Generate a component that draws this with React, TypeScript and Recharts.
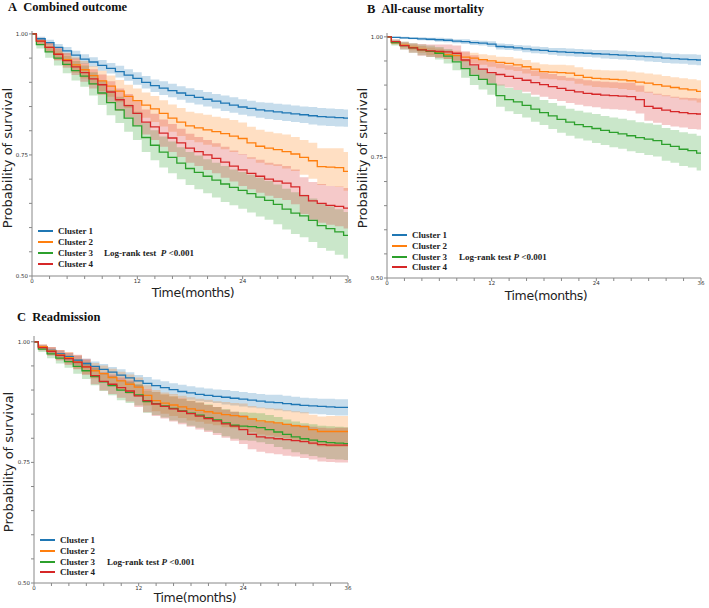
import { ComposedChart, Area, Line, XAxis, YAxis } from "recharts";

const MONTHS = [0, 1, 2, 3, 4, 5, 6, 7, 8, 9, 10, 11, 12, 13, 14, 15, 16, 17, 18, 19, 20, 21, 22, 23, 24, 25, 26, 27, 28, 29, 30, 31, 32, 33, 34, 35, 36];
const CLUSTERS = ["Cluster 1", "Cluster 2", "Cluster 3", "Cluster 4"];
const COLORS = ["#1f77b4", "#ff7f0e", "#2ca02c", "#d62728"];
const X_TICKS = [0, 2, 4, 6, 8, 10, 12, 14, 16, 18, 20, 22, 24, 26, 28, 30, 32, 34, 36];
const X_LABELS = [0, 12, 24, 36];
const Y_TICKS = [0.5, 0.55, 0.6, 0.65, 0.7, 0.75, 0.8, 0.85, 0.9, 0.95, 1.0];
const Y_LABELS = [0.5, 0.75, 1.0];

// A: combined outcome
const A_EST_1 = [1.000, .990, .982, .972, .965, .956, .948, .942, .935, .929, .922, .915, .908, .900, .893, .888, .883, .878, .873, .869, .865, .861, .857, .853, .849, .846, .843, .841, .839, .837, .835, .833, .831, .829, .828, .827, .826];
const A_HI_1 = [1.000, .994, .988, .979, .973, .965, .958, .952, .946, .940, .934, .927, .921, .913, .906, .902, .897, .892, .888, .884, .880, .876, .873, .869, .865, .862, .859, .858, .856, .854, .852, .850, .849, .847, .846, .845, .844];
const A_LO_1 = [1.000, .986, .976, .965, .957, .947, .938, .932, .924, .918, .910, .903, .895, .887, .880, .874, .869, .864, .858, .854, .850, .846, .841, .837, .833, .830, .827, .824, .822, .820, .818, .816, .813, .811, .810, .809, .808];
const A_EST_2 = [1.000, .985, .972, .958, .947, .936, .926, .914, .903, .892, .882, .871, .862, .853, .845, .836, .826, .818, .810, .806, .802, .798, .794, .789, .784, .775, .768, .764, .761, .757, .752, .745, .738, .726, .725, .724, .716];
const A_HI_2 = [1.000, .991, .981, .970, .961, .952, .944, .933, .924, .914, .905, .895, .887, .879, .872, .863, .854, .847, .839, .836, .833, .829, .826, .822, .817, .808, .802, .798, .795, .792, .787, .781, .775, .764, .764, .764, .756];
const A_LO_2 = [1.000, .979, .963, .946, .933, .920, .908, .895, .882, .870, .859, .847, .837, .827, .818, .809, .798, .789, .781, .776, .771, .767, .762, .756, .751, .742, .734, .730, .727, .722, .717, .709, .701, .688, .686, .684, .676];
const A_EST_3 = [1.000, .978, .963, .950, .937, .924, .913, .897, .878, .858, .843, .826, .810, .786, .770, .756, .745, .733, .722, .714, .706, .698, .690, .683, .677, .670, .663, .656, .648, .638, .630, .624, .615, .604, .598, .591, .584];
const A_HI_3 = [1.000, .986, .975, .965, .955, .944, .935, .921, .903, .884, .870, .854, .839, .816, .801, .788, .778, .766, .756, .749, .741, .734, .727, .720, .715, .709, .703, .696, .689, .680, .673, .668, .660, .650, .644, .638, .632];
const A_LO_3 = [1.000, .970, .951, .935, .919, .904, .891, .873, .853, .832, .816, .798, .781, .756, .739, .724, .712, .700, .688, .679, .671, .662, .653, .646, .639, .631, .623, .616, .607, .596, .587, .580, .570, .558, .552, .544, .536];
const A_EST_4 = [1.000, .985, .972, .958, .945, .932, .920, .907, .895, .880, .864, .852, .836, .818, .808, .795, .785, .775, .764, .757, .750, .743, .735, .727, .719, .712, .706, .700, .696, .692, .684, .666, .655, .650, .646, .644, .640];
const A_HI_4 = [1.000, .992, .982, .971, .960, .949, .939, .927, .916, .902, .887, .876, .861, .844, .835, .823, .814, .804, .794, .787, .781, .774, .767, .759, .752, .745, .740, .734, .731, .727, .720, .704, .694, .690, .686, .685, .682];
const A_LO_4 = [1.000, .978, .962, .945, .930, .915, .901, .887, .874, .858, .841, .828, .811, .792, .781, .767, .756, .746, .734, .727, .719, .712, .703, .695, .686, .679, .672, .666, .661, .657, .648, .628, .616, .610, .606, .603, .598];

// B: all-cause mortality
const B_EST_1 = [1.000, .999, .998, .997, .996, .995, .994, .993, .991, .990, .988, .987, .985, .980, .979, .977, .975, .973, .972, .970, .969, .968, .967, .966, .965, .964, .963, .962, .961, .960, .959, .958, .956, .955, .954, .953, .952];
const B_HI_1 = [1.000, 1.000, 1.000, .999, .999, .998, .998, .997, .995, .995, .993, .992, .991, .986, .985, .983, .982, .980, .979, .977, .977, .976, .975, .974, .973, .973, .972, .971, .970, .969, .969, .968, .966, .965, .964, .964, .963];
const B_LO_1 = [1.000, .998, .996, .995, .993, .992, .990, .989, .987, .985, .983, .982, .979, .974, .973, .971, .968, .966, .965, .963, .961, .960, .959, .958, .957, .955, .954, .953, .952, .951, .949, .948, .946, .945, .944, .942, .941];
const B_EST_2 = [1.000, .988, .983, .978, .974, .970, .967, .963, .961, .958, .956, .953, .950, .947, .945, .942, .938, .933, .928, .927, .926, .925, .920, .916, .914, .913, .912, .911, .909, .906, .904, .901, .898, .895, .892, .890, .887];
const B_HI_2 = [1.000, .992, .988, .984, .981, .978, .976, .972, .971, .968, .967, .964, .962, .959, .958, .955, .952, .947, .943, .942, .942, .941, .937, .933, .932, .931, .930, .930, .928, .926, .924, .922, .919, .916, .914, .912, .910];
const B_LO_2 = [1.000, .984, .978, .972, .967, .962, .958, .954, .951, .948, .945, .942, .938, .935, .932, .929, .924, .919, .913, .912, .910, .909, .903, .899, .896, .895, .894, .892, .890, .886, .884, .880, .877, .874, .870, .868, .864];
const B_EST_3 = [1.000, .988, .982, .977, .973, .970, .966, .960, .948, .934, .920, .912, .902, .878, .870, .865, .858, .850, .843, .836, .829, .823, .818, .814, .810, .806, .802, .799, .795, .791, .788, .785, .777, .773, .767, .764, .759];
const B_HI_3 = [1.000, .994, .990, .987, .984, .982, .979, .975, .965, .953, .940, .933, .924, .901, .894, .890, .883, .876, .869, .863, .857, .851, .847, .843, .840, .836, .833, .830, .827, .823, .821, .818, .811, .807, .802, .799, .795];
const B_LO_3 = [1.000, .982, .974, .967, .962, .958, .953, .945, .931, .915, .900, .891, .880, .855, .846, .840, .833, .824, .817, .809, .801, .795, .789, .785, .780, .776, .771, .768, .763, .759, .755, .752, .743, .739, .732, .729, .723];
const B_EST_4 = [1.000, .990, .982, .977, .973, .971, .970, .969, .966, .952, .942, .933, .926, .922, .918, .914, .910, .905, .901, .897, .893, .889, .886, .883, .881, .879, .878, .877, .876, .870, .856, .852, .848, .845, .843, .841, .840];
const B_HI_4 = [1.000, .995, .990, .987, .985, .984, .984, .984, .982, .970, .962, .954, .948, .945, .941, .938, .934, .930, .926, .923, .919, .915, .913, .910, .908, .907, .906, .905, .905, .899, .886, .882, .879, .876, .874, .873, .872];
const B_LO_4 = [1.000, .985, .974, .967, .961, .958, .956, .954, .950, .934, .922, .912, .904, .899, .895, .890, .886, .880, .876, .871, .867, .863, .859, .856, .854, .851, .850, .849, .847, .841, .826, .822, .817, .814, .812, .809, .808];

// C: readmission
const C_EST_1 = [1.000, .990, .982, .975, .969, .962, .955, .949, .943, .937, .931, .925, .919, .914, .909, .905, .901, .897, .894, .891, .889, .887, .885, .883, .881, .879, .877, .875, .874, .872, .870, .868, .867, .866, .865, .864, .864];
const C_HI_1 = [1.000, .994, .988, .982, .977, .971, .965, .959, .954, .948, .943, .937, .931, .927, .922, .918, .914, .911, .908, .905, .903, .901, .900, .898, .896, .894, .892, .890, .890, .888, .886, .884, .883, .882, .882, .881, .881];
const C_LO_1 = [1.000, .986, .976, .968, .961, .953, .945, .939, .932, .926, .919, .913, .907, .901, .896, .892, .888, .883, .880, .877, .875, .873, .870, .868, .866, .864, .862, .860, .858, .856, .854, .852, .851, .850, .848, .847, .847];
const C_EST_2 = [1.000, .990, .981, .973, .967, .958, .948, .940, .934, .926, .919, .912, .906, .889, .878, .873, .869, .865, .861, .858, .855, .852, .849, .847, .845, .840, .836, .834, .832, .829, .826, .824, .818, .814, .814, .814, .814];
const C_HI_2 = [1.000, .995, .989, .983, .979, .972, .963, .956, .951, .944, .938, .932, .926, .910, .900, .895, .892, .888, .885, .882, .880, .877, .875, .873, .872, .867, .864, .862, .861, .858, .856, .854, .849, .845, .846, .846, .846];
const C_LO_2 = [1.000, .985, .973, .963, .955, .944, .933, .924, .917, .908, .900, .892, .886, .868, .856, .851, .846, .842, .837, .834, .830, .827, .823, .821, .818, .813, .808, .806, .803, .800, .796, .794, .787, .783, .782, .782, .782];
const C_EST_3 = [1.000, .985, .975, .966, .959, .949, .940, .928, .917, .909, .900, .895, .890, .876, .872, .867, .862, .857, .852, .848, .843, .838, .832, .827, .825, .824, .822, .818, .813, .808, .803, .799, .796, .793, .791, .790, .789];
const C_HI_3 = [1.000, .991, .984, .977, .972, .964, .957, .946, .936, .929, .921, .917, .912, .899, .896, .891, .887, .882, .878, .874, .870, .865, .860, .855, .854, .853, .852, .848, .844, .839, .835, .831, .829, .826, .825, .824, .823];
const C_LO_3 = [1.000, .979, .966, .955, .946, .934, .923, .910, .898, .889, .879, .873, .868, .853, .848, .843, .837, .832, .826, .822, .816, .811, .804, .799, .796, .795, .792, .788, .782, .777, .771, .767, .763, .760, .757, .756, .755];
const C_EST_4 = [1.000, .988, .980, .972, .965, .958, .948, .930, .918, .912, .905, .898, .888, .878, .871, .866, .861, .856, .851, .846, .841, .836, .830, .825, .818, .808, .803, .801, .799, .797, .795, .793, .790, .787, .786, .786, .786];
const C_HI_4 = [1.000, .994, .989, .983, .978, .973, .965, .948, .937, .932, .926, .920, .911, .902, .896, .891, .887, .883, .878, .874, .869, .865, .859, .855, .848, .839, .834, .833, .831, .830, .828, .827, .824, .822, .821, .822, .822];
const C_LO_4 = [1.000, .982, .971, .961, .952, .943, .931, .912, .899, .892, .884, .876, .865, .854, .846, .841, .835, .829, .824, .818, .813, .807, .801, .795, .788, .777, .772, .769, .767, .764, .762, .759, .756, .752, .751, .750, .750];

const SERIF = '"Liberation Serif", "Times New Roman", serif';
const SANS = '"DejaVu Sans", "Noto Sans", sans-serif';

type Row = Record<string, number | number[]>;

function buildRows(est: number[][], lo: number[][], hi: number[][]): Row[] {
  return MONTHS.map((t, i) => {
    const row: Row = { t };
    est.forEach((s, k) => {
      row[`s${k}`] = s[i];
      row[`b${k}`] = [lo[k][i], hi[k][i]];
    });
    return row;
  });
}

const ROWS_A = buildRows([A_EST_1, A_EST_2, A_EST_3, A_EST_4], [A_LO_1, A_LO_2, A_LO_3, A_LO_4], [A_HI_1, A_HI_2, A_HI_3, A_HI_4]);
const ROWS_B = buildRows([B_EST_1, B_EST_2, B_EST_3, B_EST_4], [B_LO_1, B_LO_2, B_LO_3, B_LO_4], [B_HI_1, B_HI_2, B_HI_3, B_HI_4]);
const ROWS_C = buildRows([C_EST_1, C_EST_2, C_EST_3, C_EST_4], [C_LO_1, C_LO_2, C_LO_3, C_LO_4], [C_HI_1, C_HI_2, C_HI_3, C_HI_4]);

interface PanelProps {
  rows: Row[];
  left: number;
  top: number;
  width: number;
  height: number;
  yMax: number; // axis line runs a little past 1.00, as in the figure
  plot: { left: number; right: number; top: number; bottom: number };
}

function KmChart({ rows, left, top, width, height, yMax, plot }: PanelProps) {
  const tickStyle = { fontSize: 5.5, fill: "#333", fontFamily: SANS };
  return (
    <div style={{ position: "absolute", left, top }}>
      <ComposedChart
        width={width}
        height={height}
        data={rows}
        margin={{ top: plot.top, right: width - plot.right, left: 0, bottom: 0 }}
      >
        <XAxis
          dataKey="t"
          type="number"
          domain={[0, 36]}
          ticks={X_TICKS}
          interval={0}
          tickFormatter={(v: number) => (X_LABELS.includes(v) ? String(v) : "")}
          height={height - plot.bottom}
          tickSize={3}
          tickMargin={0}
          tick={tickStyle}
          stroke="#888"
        />
        <YAxis
          type="number"
          domain={[0.5, yMax]}
          ticks={Y_TICKS}
          interval={0}
          tickFormatter={(v: number) => (Y_LABELS.some((l) => Math.abs(l - v) < 1e-6) ? v.toFixed(2) : "")}
          width={plot.left}
          tickSize={3}
          tickMargin={1}
          tick={tickStyle}
          stroke="#888"
        />
        {COLORS.map((c, k) => (
          <Area
            key={`band${k}`}
            dataKey={`b${k}`}
            type="step"
            stroke="none"
            fill={c}
            fillOpacity={0.25}
            isAnimationActive={false}
          />
        ))}
        {COLORS.map((c, k) => (
          <Line
            key={`line${k}`}
            dataKey={`s${k}`}
            type="step"
            stroke={c}
            strokeWidth={1.3}
            dot={false}
            activeDot={false}
            isAnimationActive={false}
          />
        ))}
      </ComposedChart>
    </div>
  );
}

function Txt({ x, y, children, style, center = false }: { x: number; y: number; children: React.ReactNode; style?: React.CSSProperties; center?: boolean }) {
  return (
    <div
      style={{
        position: "absolute",
        left: x,
        top: y,
        transform: center ? "translate(-50%, -50%)" : "translateY(-50%)",
        whiteSpace: "nowrap",
        lineHeight: 1,
        ...style,
      }}
    >
      {children}
    </div>
  );
}

function Legend({ x, y, gap, logX, wide }: { x: number; y: number; gap: number; logX: number; wide?: boolean }) {
  const textStyle: React.CSSProperties = { fontFamily: SERIF, fontWeight: 700, fontSize: 9, color: "#222" };
  return (
    <>
      {CLUSTERS.map((name, k) => {
        const ry = Math.round(y + k * gap);
        return (
          <div key={name}>
            <div style={{ position: "absolute", left: x, top: ry - 1, width: 15, height: 1.5, background: COLORS[k] }} />
            <Txt x={x + 20} y={ry} style={textStyle}>{name}</Txt>
          </div>
        );
      })}
      <Txt x={logX} y={Math.round(y + 2 * gap)} style={textStyle}>
        Log-rank test{wide ? "\u00a0\u00a0" : " "}<i>P</i> &lt;0.001
      </Txt>
    </>
  );
}

const TITLE: React.CSSProperties = { fontFamily: SERIF, fontWeight: 700, fontSize: 12.5, color: "#111" };
const Y_LABEL: React.CSSProperties = { fontFamily: SANS, fontSize: 13, color: "#222", transform: "translate(-50%, -50%) rotate(-90deg)" };
const X_LABEL: React.CSSProperties = { fontFamily: SANS, fontSize: 12.5, letterSpacing: -0.4, color: "#222" };

export default function App() {
  return (
    <div style={{ position: "absolute", left: 0, top: 0, width: 709, height: 608, background: "#fff", overflow: "hidden" }}>
      <KmChart rows={ROWS_A} left={0} top={0} width={360} height={300} yMax={1.006} plot={{ left: 32, right: 348, top: 31, bottom: 276 }} />
      <KmChart rows={ROWS_B} left={355} top={0} width={354} height={300} yMax={1.008} plot={{ left: 32, right: 346, top: 33, bottom: 278 }} />
      <KmChart rows={ROWS_C} left={0} top={300} width={360} height={308} yMax={1.012} plot={{ left: 34, right: 348, top: 36, bottom: 283 }} />

      <Txt x={8} y={7} style={TITLE}>A&nbsp;&nbsp;Combined outcome</Txt>
      <Txt x={367} y={9} style={TITLE}>B&nbsp;&nbsp;All-cause mortality</Txt>
      <Txt x={17} y={317} style={TITLE}>C&nbsp;&nbsp;Readmission</Txt>

      <Txt x={7} y={158} center style={Y_LABEL}>Probability of survival</Txt>
      <Txt x={362} y={158} center style={Y_LABEL}>Probability of survival</Txt>
      <Txt x={8} y={462} center style={Y_LABEL}>Probability of survival</Txt>

      <Txt x={193} y={293} center style={X_LABEL}>Time(months)</Txt>
      <Txt x={546} y={296} center style={X_LABEL}>Time(months)</Txt>
      <Txt x={195} y={598} center style={X_LABEL}>Time(months)</Txt>

      <Legend x={38} y={231} gap={11} logX={104} wide />
      <Legend x={392} y={235} gap={10.8} logX={459} />
      <Legend x={40} y={540} gap={10.8} logX={107} />
    </div>
  );
}
